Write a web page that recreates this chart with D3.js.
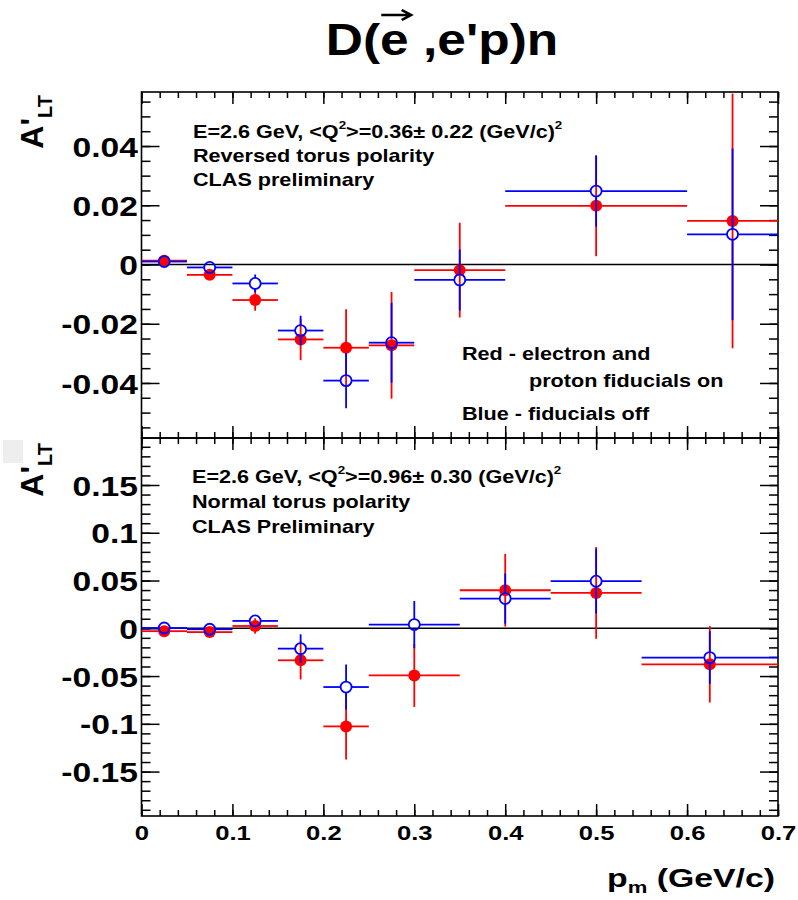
<!DOCTYPE html>
<html>
<head>
<meta charset="utf-8">
<script src="https://cdn.jsdelivr.net/npm/d3@7"></script>
<style>
  body { margin: 0; background: #fff; }
  svg { display: block; }
  text { font-family: "Liberation Sans", Arial, sans-serif; font-weight: bold; fill: #000; }
</style>
</head>
<body>
<svg id="chart" width="798" height="900"></svg>
<script>
// ---- top panel: reversed torus polarity, <Q2>=0.36 ----
const topBinLo   = [0, 0.05, 0.10, 0.15, 0.20, 0.25, 0.30, 0.40, 0.60];
const topBinHi   = [0.05, 0.10, 0.15, 0.20, 0.25, 0.30, 0.40, 0.60, 0.70];
const topPm      = [0.025, 0.075, 0.125, 0.175, 0.225, 0.275, 0.35, 0.50, 0.65];
const topRed     = [0.0013, -0.0035, -0.0120, -0.0253, -0.0281, -0.0273, -0.0019, 0.0198, 0.0147];
const topRedErr  = [0.0015, 0.0015, 0.0036, 0.0070, 0.0130, 0.0180, 0.0160, 0.0170, 0.0430];
const topBlue    = [0.0010, -0.0010, -0.0064, -0.0223, -0.0392, -0.0264, -0.0052, 0.0248, 0.0102];
const topBlueErr = [0.0015, 0.0015, 0.0030, 0.0050, 0.0093, 0.0135, 0.0103, 0.0120, 0.0290];

// ---- bottom panel: normal torus polarity, <Q2>=0.96 ----
const botBinLo   = [0, 0.05, 0.10, 0.15, 0.20, 0.25, 0.35, 0.45, 0.55];
const botBinHi   = [0.05, 0.10, 0.15, 0.20, 0.25, 0.35, 0.45, 0.55, 0.70];
const botPm      = [0.025, 0.075, 0.125, 0.175, 0.225, 0.30, 0.40, 0.50, 0.625];
const botRed     = [-0.0030, -0.0040, 0.0024, -0.0335, -0.1027, -0.0493, 0.0398, 0.0370, -0.0377];
const botRedErr  = [0.0040, 0.0040, 0.0080, 0.0200, 0.0346, 0.0330, 0.0380, 0.0480, 0.0400];
const botBlue    = [0.0003, -0.0010, 0.0077, -0.0213, -0.0615, 0.0039, 0.0311, 0.0493, -0.0307];
const botBlueErr = [0.0040, 0.0040, 0.0050, 0.0150, 0.0235, 0.0247, 0.0263, 0.0340, 0.0275];

// tick labels
const xTickVals   = [0, 0.1, 0.2, 0.3, 0.4, 0.5, 0.6, 0.7];
const xTickLabels = ["0", "0.1", "0.2", "0.3", "0.4", "0.5", "0.6", "0.7"];
const topTickVals   = [-0.04, -0.02, 0, 0.02, 0.04];
const topTickLabels = ["-0.04", "-0.02", "0", "0.02", "0.04"];
const botTickVals   = [-0.15, -0.1, -0.05, 0, 0.05, 0.1, 0.15];
const botTickLabels = ["-0.15", "-0.1", "-0.05", "0", "0.05", "0.1", "0.15"];

const svg = d3.select("#chart");
const RED = "#ff0000", BLUE = "#0000ff";
const SX = 1.2;   // the original picture is a bit stretched sideways
const xL = 141.5, xR = 778;

const x = d3.scaleLinear().domain([0, 0.7]).range([xL, xR]);

// text with optional sub/superscripts
function label(px, py, size, parts, opts = {}) {
  const tf = `translate(${px},${py})` + (opts.rotate ? ` rotate(${opts.rotate})` : "") + ` scale(${opts.sx || 1},1)`;
  const g = svg.append("g").attr("transform", tf);
  const t = g.append("text").attr("font-size", size).attr("text-anchor", opts.anchor || "start");
  let shift = 0;
  parts.forEach(p => {
    const s = typeof p === "string" ? { t: p } : p;
    const want = s.sup ? -size * 0.5 : s.sub ? (s.dy || size * 0.3) : 0;
    t.append("tspan")
      .attr("dy", want - shift)
      .attr("font-size", s.size || (s.sup || s.sub ? size * 0.62 : size))
      .text(s.t);
    shift = want;
  });
  return { g, t };
}

function ticksRange(d, step) {
  const lo = Math.ceil(Math.min(d[0], d[1]) / step - 1e-9);
  const hi = Math.floor(Math.max(d[0], d[1]) / step + 1e-9);
  return d3.range(lo, hi + 1).map(i => +(i * step).toFixed(6));
}

function styleAxis(g) {
  g.select(".domain").remove();
  g.selectAll("line").attr("stroke", "#000").attr("stroke-width", 1.5);
}

function drawPanel(p) {
  const { y, top, bottom } = p;
  const g = svg.append("g");

  // y axes, ticks pointing inwards on both sides
  const yMinor = ticksRange(y.domain(), p.minorStep);
  g.append("g").attr("transform", `translate(${xL},0)`)
    .call(d3.axisLeft(y).tickValues(yMinor).tickSize(-9).tickFormat(""))
    .call(styleAxis);
  g.append("g").attr("transform", `translate(${xR},0)`)
    .call(d3.axisRight(y).tickValues(yMinor).tickSize(-9).tickFormat(""))
    .call(styleAxis);
  g.append("g").attr("transform", `translate(${xR},0)`)
    .call(d3.axisRight(y).tickValues(p.tickVals).tickSize(-18).tickFormat(""))
    .call(styleAxis);
  g.append("g").attr("transform", `translate(${xL},0)`)
    .attr("font-family", null).attr("font-size", null)
    .call(d3.axisLeft(y).tickValues(p.tickVals).tickSize(-18).tickPadding(3)
      .tickFormat((d, i) => p.tickLabels[i]))
    .call(styleAxis)
    .call(a => a.selectAll("text")
      .attr("font-size", 28).attr("dy", "0.36em")
      .attr("transform", `scale(${SX},1)`));

  // x axes top and bottom of the frame
  const xMinor = ticksRange(x.domain(), 0.02);
  g.append("g").attr("transform", `translate(0,${top})`)
    .call(d3.axisTop(x).tickValues(xMinor).tickSize(-6).tickFormat(""))
    .call(styleAxis);
  g.append("g").attr("transform", `translate(0,${top})`)
    .call(d3.axisTop(x).tickValues(xTickVals).tickSize(-12).tickFormat(""))
    .call(styleAxis);
  g.append("g").attr("transform", `translate(0,${bottom})`)
    .call(d3.axisBottom(x).tickValues(xMinor).tickSize(-6).tickFormat(""))
    .call(styleAxis);
  const xb = g.append("g").attr("transform", `translate(0,${bottom})`)
    .attr("font-family", null).attr("font-size", null)
    .call(d3.axisBottom(x).tickValues(xTickVals).tickSize(-12).tickPadding(9)
      .tickFormat((d, i) => p.xLabels ? xTickLabels[i] : ""))
    .call(styleAxis);
  xb.selectAll("text").attr("font-size", 21).attr("transform", `scale(1.22,1)`);

  // frame
  g.append("rect")
    .attr("x", xL).attr("y", top)
    .attr("width", xR - xL).attr("height", bottom - top)
    .attr("fill", "none").attr("stroke", "#000").attr("stroke-width", 1.6);

  // zero line
  g.append("line")
    .attr("x1", xL).attr("x2", xR).attr("y1", y(0)).attr("y2", y(0))
    .attr("stroke", "#000").attr("stroke-width", 1.5);

  // data points with error bars, red underneath, blue on top
  const r = 5.5;
  [[p.red, p.redErr, RED, true], [p.blue, p.blueErr, BLUE, false]].forEach(([vals, errs, col, filled]) => {
    const pts = vals.map((v, i) => ({ x: p.pm[i], lo: p.binLo[i], hi: p.binHi[i], v, e: errs[i] }));
    const segs = [];
    pts.forEach(d => {
      const cx = x(d.x), cy = y(d.v);
      const yTop = Math.max(y(d.v + d.e), top), yBot = Math.min(y(d.v - d.e), bottom);
      segs.push([x(d.lo), cy, cx - r, cy]);
      segs.push([cx + r, cy, x(d.hi), cy]);
      if (cy - r > yTop) segs.push([cx, yTop, cx, cy - r]);
      if (yBot > cy + r) segs.push([cx, cy + r, cx, yBot]);
    });
    g.append("g").selectAll("line").data(segs).join("line")
      .attr("x1", s => s[0]).attr("y1", s => s[1])
      .attr("x2", s => s[2]).attr("y2", s => s[3])
      .attr("stroke", col).attr("stroke-width", 1.8);
    g.append("g").selectAll("circle").data(pts).join("circle")
      .attr("cx", d => x(d.x)).attr("cy", d => y(d.v)).attr("r", filled ? r + 0.5 : r)
      .attr("fill", filled ? col : "none")
      .attr("stroke", col).attr("stroke-width", filled ? 0 : 1.8);
  });
}

// top panel
const yTop = d3.scaleLinear().domain([-0.05858, 0.05824]).range([438, 92]);
drawPanel({
  y: yTop, top: 92, bottom: 438, minorStep: 0.005,
  tickVals: topTickVals, tickLabels: topTickLabels, xLabels: false,
  binLo: topBinLo, binHi: topBinHi, pm: topPm,
  red: topRed, redErr: topRedErr, blue: topBlue, blueErr: topBlueErr
});

// bottom panel
const yBot = d3.scaleLinear().domain([-0.1965, 0.1992]).range([816, 438]);
drawPanel({
  y: yBot, top: 438, bottom: 816, minorStep: 0.01,
  tickVals: botTickVals, tickLabels: botTickLabels, xLabels: true,
  binLo: botBinLo, binHi: botBinHi, pm: botPm,
  red: botRed, redErr: botRedErr, blue: botBlue, blueErr: botBlueErr
});

// annotations
label(193, 138, 18, ["E=2.6 GeV, <Q", { t: "2", sup: true }, ">=0.36\u00b1 0.22 (GeV/c)", { t: "2", sup: true }], { sx: SX });
label(193, 162, 18, ["Reversed torus polarity"], { sx: SX });
label(193, 186, 18, ["CLAS preliminary"], { sx: SX });
label(462, 360, 18, ["Red - electron and"], { sx: SX });
label(529, 387, 18, ["proton fiducials on"], { sx: SX });
label(462, 420, 18, ["Blue - fiducials off"], { sx: SX });

label(192, 483, 18, ["E=2.6 GeV, <Q", { t: "2", sup: true }, ">=0.96\u00b1 0.30 (GeV/c)", { t: "2", sup: true }], { sx: SX });
label(192, 508, 18, ["Normal torus polarity"], { sx: SX });
label(192, 533, 18, ["CLAS Preliminary"], { sx: SX });

// axis titles
svg.append("rect").attr("x", 3).attr("y", 440).attr("width", 20).attr("height", 23).attr("fill", "#eeeeee");
[95, 443].forEach(yy => {
  label(43, yy, 32, ["A'", { t: "LT", sub: true, size: 20, dy: 9 }], { rotate: -90, anchor: "end" });
});
label(775, 887, 26, ["p", { t: "m", sub: true, size: 17, dy: 6 }, " (GeV/c)"], { anchor: "end", sx: 1.3 });

// title with the arrow over the polarised electron
const title = label(442, 55, 44, ["D(e ,e'p)n"], { anchor: "middle", sx: 1.17 });
const tn = title.t.node();
const ex = tn.getStartPositionOfChar(2).x;
const ew = tn.getSubStringLength(2, 1);
const ay = -40;
title.g.append("path")
  .attr("d", `M${ex + 1},${ay} L${ex + ew + 2},${ay} M${ex + ew - 6},${ay - 5} L${ex + ew + 2},${ay} L${ex + ew - 6},${ay + 5}`)
  .attr("fill", "none").attr("stroke", "#000").attr("stroke-width", 2.5);
</script>
</body>
</html>
